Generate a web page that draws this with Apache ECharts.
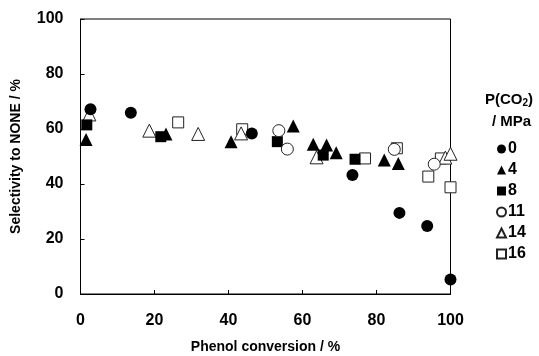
<!DOCTYPE html>
<html>
<head>
<meta charset="utf-8">
<script src="https://cdn.jsdelivr.net/npm/echarts@6/dist/echarts.min.js"></script>
<style>
html, body { margin: 0; padding: 0; background: #fff; }
#chart { width: 539px; height: 356px; }
</style>
</head>
<body>
<div id="chart"></div>
<script>
// [phenol conversion %, selectivity %] for each CO2 pressure
const p0 = [[2.7, 67.2], [13.6, 65.9], [46.3, 58.4], [73.5, 43.3], [86.2, 29.5], [93.7, 24.7], [100, 5.3]];
const p4 = [[1.5, 56.2], [23.1, 58.2], [40.7, 55.4], [57.5, 61.1], [62.9, 54.5], [66.5, 54.2], [69.1, 51.4], [82.1, 48.7], [85.9, 47.5]];
const p8 = [[1.7, 61.5], [21.7, 57.2], [53.2, 55.4], [65.6, 50.5], [74.2, 49.0]];
const p11 = [[53.6, 59.4], [55.9, 52.7], [84.8, 52.6], [95.6, 47.2]];
const p14 = [[2.4, 65.3], [18.6, 59.4], [31.8, 58.2], [43.4, 58.4], [63.8, 49.7], [98.6, 49.6], [100, 51.0]];
const p16 = [[26.4, 62.4], [43.7, 59.9], [76.9, 49.3], [85.5, 53.0], [94.0, 42.7], [97.4, 49.3], [100, 38.8]];

const legendNames = ['0', '4', '8', '11', '14', '16'];
const xTicks = [0, 20, 40, 60, 80, 100];
const yTicks = [0, 20, 40, 60, 80, 100];

const font = 'Liberation Sans, Arial, sans-serif';

function filled(name, symbol, size, data) {
    return {
        name: name, type: 'scatter', symbol: symbol, symbolSize: size, data: data,
        itemStyle: { color: '#000', opacity: 1 }
    };
}
function open(name, symbol, size, data) {
    return {
        name: name, type: 'scatter', symbol: symbol, symbolSize: size, data: data,
        itemStyle: { color: '#fff', borderColor: '#222', borderWidth: 1, opacity: 1 }
    };
}

let myChart = echarts.init(document.getElementById('chart'));
myChart.setOption({
    animation: false,
    grid: {
        left: 80.5, right: 88.5, top: 19, bottom: 62,
        containLabel: false, outerBoundsMode: 'none',
        show: true, borderColor: '#000', borderWidth: 1
    },
    xAxis: {
        type: 'value', min: 0, max: 100, interval: 20,
        name: 'Phenol conversion / %', nameLocation: 'middle', nameGap: 46,
        nameTextStyle: { color: '#000', fontFamily: font, fontWeight: 'bold', fontSize: 14 },
        axisLine: { lineStyle: { color: '#000', width: 1 } },
        axisTick: { inside: true, length: 4, lineStyle: { color: '#000' } },
        axisLabel: {
            color: '#000', fontFamily: font, fontWeight: 'bold', fontSize: 16, margin: 19,
            formatter: v => xTicks.includes(v) ? String(v) : ''
        },
        splitLine: { show: false }
    },
    yAxis: {
        type: 'value', min: 0, max: 100, interval: 20,
        name: 'Selectivity to NONE / %', nameLocation: 'middle', nameGap: 57,
        nameTextStyle: { color: '#000', fontFamily: font, fontWeight: 'bold', fontSize: 14 },
        axisLine: { show: true, lineStyle: { color: '#000', width: 1 } },
        axisTick: { show: true, inside: true, length: 4, lineStyle: { color: '#000' } },
        axisLabel: {
            color: '#000', fontFamily: font, fontWeight: 'bold', fontSize: 16, margin: 17,
            formatter: v => yTicks.includes(v) ? String(v) : ''
        },
        splitLine: { show: false }
    },
    legend: {
        data: legendNames,
        orient: 'vertical',
        left: 491, top: 136,
        itemWidth: 9, itemHeight: 9, itemGap: 5,
        textStyle: { color: '#000', fontFamily: font, fontWeight: 'bold', fontSize: 16, lineHeight: 16, padding: [0, 0, 0, -3] }
    },
    graphic: [
        {
            type: 'text', left: 485, top: 92,
            style: {
                text: '{a|P(CO}{s|2}{a|)}',
                rich: {
                    a: { fontFamily: font, fontWeight: 'bold', fontSize: 15, fill: '#000' },
                    s: { fontFamily: font, fontWeight: 'bold', fontSize: 10, fill: '#000', padding: [8, 0, 0, 0] }
                }
            }
        },
        {
            type: 'text', left: 492, top: 114,
            style: { text: '/ MPa', fontFamily: font, fontWeight: 'bold', fontSize: 15, fill: '#000' }
        }
    ],
    series: [
        open('16', 'rect', 11, p16),
        open('14', 'triangle', 13, p14),
        filled('8', 'rect', 11, p8),
        filled('4', 'triangle', 13, p4),
        open('11', 'circle', 12, p11),
        filled('0', 'circle', 12, p0)
    ]
});
</script>
</body>
</html>
